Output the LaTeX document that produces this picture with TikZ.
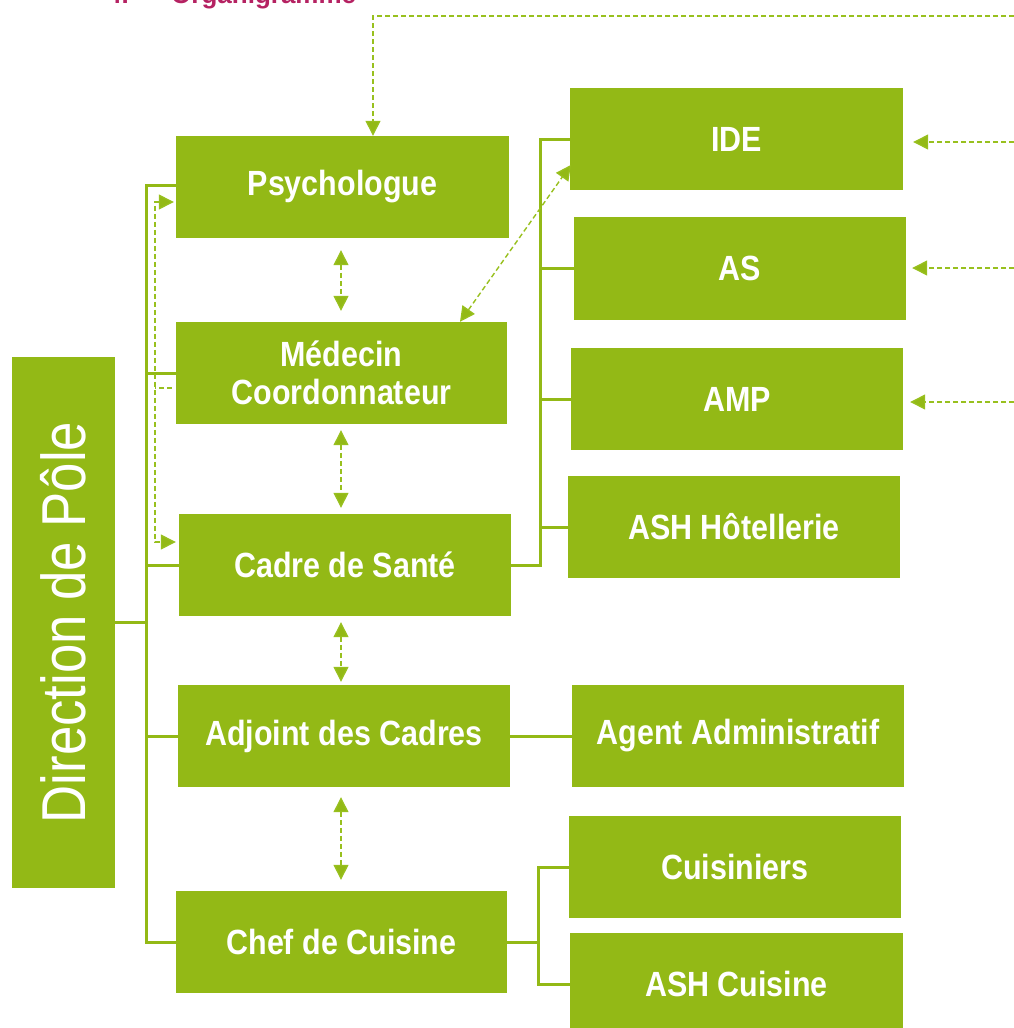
\documentclass[tikz,border=0pt]{standalone}
\usepackage{fontspec}
\setmainfont{Liberation Sans}
\newfontfamily\boxfont[FakeStretch=0.87]{Liberation Sans}
\newfontfamily\dirfont[FakeStretch=0.85]{Liberation Sans}
\usetikzlibrary{arrows.meta}
\definecolor{leaf}{RGB}{147,185,22}
\definecolor{dashgreen}{RGB}{152,192,30}
\definecolor{titlemag}{RGB}{181,34,98}
\begin{document}
\begin{tikzpicture}[x=1pt,y=-1pt,
  box/.style={fill=leaf, text=white, inner sep=0pt, align=center,
    minimum width=332pt, minimum height=102pt,
    font=\boxfont\bfseries\fontsize{35}{38}\selectfont},
  conn/.style={draw=leaf, line width=3pt},
  darr/.style={draw=dashgreen, line width=1.4pt, dash pattern=on 5pt off 3pt,
    >={Triangle[length=15pt,width=15pt,fill=leaf]}},
  ttl/.style={anchor=base west, text=titlemag, inner sep=0pt,
    font=\bfseries\fontsize{26}{29}\selectfont}]
\useasboundingbox (0,0) rectangle (1014,1028);
\clip (0,0) rectangle (1014,1028);

% title (cut off at the top edge, as in the source)
\node[ttl] (num) at (107,3) {4.};
\node[ttl] (title) at (171,3) {Organigramme};

% boxes
\node[box, minimum width=103pt, minimum height=531pt] (dir) at (63.5,622.5)
  {\rotatebox{90}{\dirfont\mdseries\fontsize{62}{66}\selectfont Direction de Pôle}};
\node[box, minimum width=333pt] (psy) at (342.5,187) {\raisebox{-2pt}{Psychologue}};
\node[box, minimum width=331pt] (med) at (341.5,373) {Médecin\\Coordonnateur};
\node[box] (cad) at (345,565) {Cadre de Santé};
\node[box] (adj) at (344,736) {Adjoint des Cadres};
\node[box, minimum width=331pt] (chef) at (341.5,942) {Chef de Cuisine};
\node[box, minimum width=333pt] (ide) at (736.5,139) {IDE};
\node[box, minimum height=103pt] (as) at (740,268.5) {AS};
\node[box] (amp) at (737,399) {AMP};
\node[box] (ashh) at (734,527) {ASH Hôtellerie};
\node[box] (agent) at (738,736) {Agent Administratif};
\node[box] (cuis) at (735,867) {Cuisiniers};
\node[box, minimum width=333pt] (ashc) at (736.5,984) {ASH Cuisine};

% solid connectors
\coordinate (spine) at (146,0);
\coordinate (rspine) at (540,0);
\coordinate (cspine) at (538,0);
\draw[conn] (dir.east) -- (dir.east -| spine);
\draw[conn] ([yshift=2pt]psy.west) -| (spine |- chef.west) -- (chef.west);
\foreach \n in {med,cad,adj} \draw[conn] (\n.west) -- (\n.west -| spine);
\draw[conn] (cad.east) -| (rspine |- ide.west) -- (ide.west);
\foreach \n in {as,amp,ashh} \draw[conn] (\n.west) -- (\n.west -| rspine);
\draw[conn] (adj.east) -- (agent.west);
\draw[conn] (chef.east) -- (chef.east -| cspine);
\draw[conn] (cuis.west) -| (cspine |- ashc.west) -- (ashc.west);

% dashed connectors
\coordinate (topin) at (1014,16);
\coordinate (idein) at (1014,142);
\coordinate (asin) at (1014,268);
\coordinate (ampin) at (1014,402);
\draw[darr,->] (topin) -| ([xshift=30.5pt]psy.north);
\draw[darr,->,shorten >=10pt] (idein) -- (idein -| ide.east);
\draw[darr,->,shorten >=6pt] (asin) -- (asin -| as.east);
\draw[darr,->,shorten >=7pt] (ampin) -- (ampin -| amp.east);

\coordinate (mid) at (341,0);
\draw[darr,<->,shorten <=12pt,shorten >=11pt] (mid |- psy.south) -- (mid |- med.north);
\draw[darr,<->,shorten <=6pt,shorten >=6pt] (mid |- med.south) -- (mid |- cad.north);
\draw[darr,<->,shorten <=6pt,shorten >=3pt] (mid |- cad.south) -- (mid |- adj.north);
\draw[darr,<->,shorten <=10pt,shorten >=11pt] (mid |- adj.south) -- (mid |- chef.north);

\draw[darr,<->] ([xshift=118.5pt]med.north) -- ([xshift=1pt,yshift=-26pt]ide.west);

\coordinate (lsp) at (155,0);
\draw[darr,<->,shorten <=2pt,shorten >=3pt] ([yshift=-15pt]psy.west) -| ([yshift=23pt]cad.west -| lsp) -- ([yshift=23pt]cad.west);
\draw[darr,shorten <=4pt] ([yshift=-15pt]med.west) -- ([yshift=-15pt]med.west -| lsp);
\end{tikzpicture}
\end{document}
